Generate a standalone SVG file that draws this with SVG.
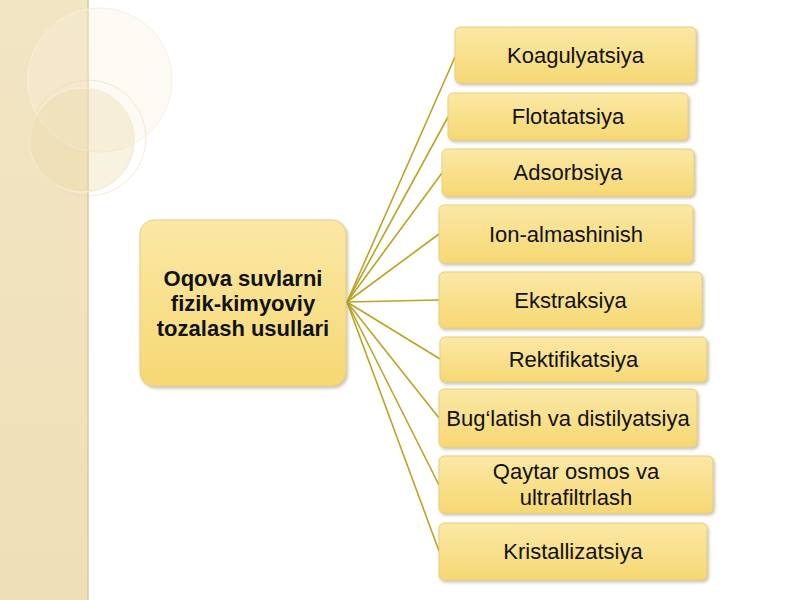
<svg xmlns="http://www.w3.org/2000/svg" width="800" height="600" viewBox="0 0 800 600">
<defs>
<linearGradient id="bx" x1="0" y1="0" x2="0" y2="1">
<stop offset="0" stop-color="#fbe8a6"/>
<stop offset="1" stop-color="#f6d873"/>
</linearGradient>
<linearGradient id="side" x1="0" y1="0" x2="0" y2="1">
<stop offset="0" stop-color="#f2e5c4"/>
<stop offset="1" stop-color="#efdfb6"/>
</linearGradient>
<filter id="sh" x="-10%" y="-10%" width="130%" height="140%">
<feDropShadow dx="1.5" dy="2" stdDeviation="1.5" flood-color="#8a7a50" flood-opacity="0.45"/>
</filter>
<style>
.box{fill:url(#bx);stroke:#e6cf7e;stroke-width:1;filter:url(#sh)}
.t{font-family:"Liberation Sans",Arial,sans-serif;font-size:22px;fill:#111;text-anchor:middle}
.tb{font-family:"Liberation Sans",Arial,sans-serif;font-size:22px;font-weight:bold;fill:#111;text-anchor:middle}
.c{stroke:#b9a523;stroke-width:1.6;fill:none}
</style>
</defs>
<rect width="800" height="600" fill="#ffffff"/>
<g id="sidebar">
<rect x="0" y="0" width="88" height="600" fill="url(#side)"/>
<line x1="88" y1="0" x2="88" y2="600" stroke="#d8c8a0" stroke-width="1.5"/>
<circle cx="100" cy="80" r="72" fill="#f8efdc" fill-opacity="0.35" stroke="#f8f1e0" stroke-width="1"/>
<circle cx="82" cy="140" r="52" fill="#ebdaa9" fill-opacity="0.35" stroke="#f6ecd4" stroke-width="1.5"/>
<circle cx="88" cy="138" r="58" fill="none" stroke="#e8d8ac" stroke-width="1" stroke-opacity="0.5"/>
</g>
<g id="connectors">
<line class="c" x1="347" y1="302" x2="455" y2="57"/>
<line class="c" x1="347" y1="302" x2="448" y2="117"/>
<line class="c" x1="347" y1="302" x2="442" y2="173"/>
<line class="c" x1="347" y1="302" x2="439" y2="234"/>
<line class="c" x1="347" y1="302" x2="439" y2="300"/>
<line class="c" x1="347" y1="302" x2="440" y2="359"/>
<line class="c" x1="347" y1="302" x2="439" y2="418"/>
<line class="c" x1="347" y1="302" x2="439" y2="485"/>
<line class="c" x1="347" y1="302" x2="439" y2="551"/>
</g>
<g id="center">
<rect class="box" x="140" y="220" width="206" height="166" rx="14"/>
<text class="tb" x="243" y="286">Oqova suvlarni</text>
<text class="tb" x="243" y="311">fizik-kimyoviy</text>
<text class="tb" x="243" y="336">tozalash usullari</text>
</g>
<g id="n1"><rect class="box" x="455" y="27" width="241" height="56" rx="5"/><text class="t" x="575.5" y="63">Koagulyatsiya</text></g>
<g id="n2"><rect class="box" x="448" y="93" width="240" height="47" rx="5"/><text class="t" x="568" y="124">Flotatatsiya</text></g>
<g id="n3"><rect class="box" x="442" y="149" width="252" height="47" rx="5"/><text class="t" x="568" y="180">Adsorbsiya</text></g>
<g id="n4"><rect class="box" x="439" y="205" width="254" height="58" rx="5"/><text class="t" x="566" y="242">Ion-almashinish</text></g>
<g id="n5"><rect class="box" x="439" y="272" width="263" height="56" rx="5"/><text class="t" x="570.5" y="308">Ekstraksiya</text></g>
<g id="n6"><rect class="box" x="440" y="337" width="267" height="45" rx="5"/><text class="t" x="573.5" y="367">Rektifikatsiya</text></g>
<g id="n7"><rect class="box" x="439" y="389" width="258" height="58" rx="5"/><text class="t" x="568" y="426">Bug‘latish va distilyatsiya</text></g>
<g id="n8"><rect class="box" x="439" y="456" width="274" height="57" rx="5"/><text class="t" x="576" y="479">Qaytar osmos va</text><text class="t" x="576" y="505">ultrafiltrlash</text></g>
<g id="n9"><rect class="box" x="439" y="523" width="268" height="57" rx="5"/><text class="t" x="573" y="559">Kristallizatsiya</text></g>
</svg>
